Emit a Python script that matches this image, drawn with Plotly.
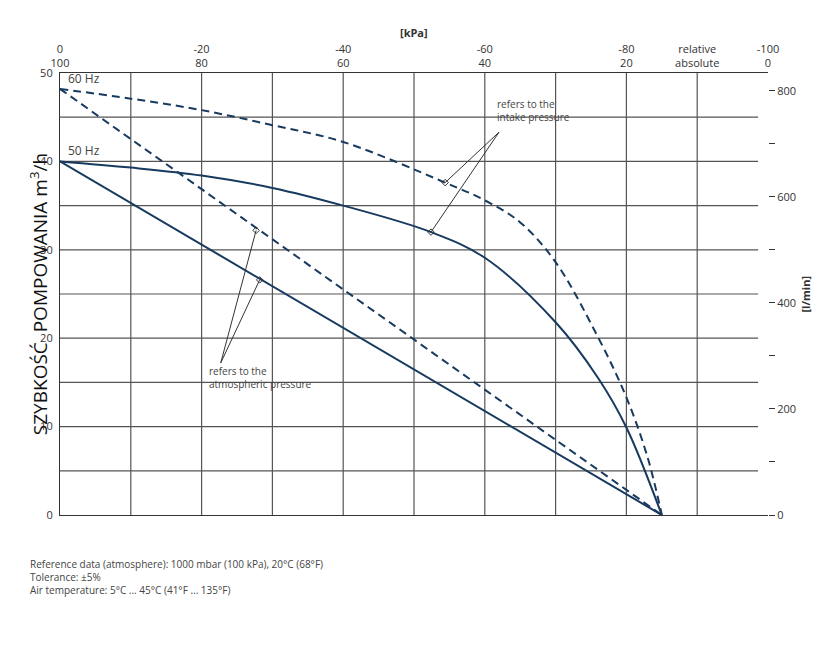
import plotly.graph_objects as go

# data: vacuum (kPa, relative, shown as negative) vs pumping speed m3/h
int50_x = [0, 10, 20, 30, 40, 52.4, 60, 70, 76, 80, 85]
int50_y = [40, 39.3, 38.4, 37.0, 35.0, 32.0, 29.1, 21.8, 15.5, 9.9, 0]
int60_x = [0, 10, 20, 30, 40, 54.4, 60, 65, 70, 76, 80, 83, 85]
int60_y = [48.2, 47.1, 45.8, 44.1, 42.2, 37.6, 35.6, 33.1, 28.6, 20.1, 13.3, 6.5, 0]
atm50_x = [0, 85]; atm50_y = [40, 0]
atm60_x = [0, 85]; atm60_y = [48.2, 0]
top_vals = [0, 20, 40, 60, 80, 90, 100]
top_text = ["0<br>100", "-20<br>80", "-40<br>60", "-60<br>40", "-80<br>20", "relative<br>absolute", "-100<br>0"]
left_vals = [0, 10, 20, 30, 40, 50]
right_vals = [0, 200, 400, 600, 800]

C = "#173a5e"
G = "#555555"
D = "8px,5px"
fig = go.Figure()
fig.add_trace(go.Scatter(x=int60_x, y=int60_y, mode="lines", line=dict(color=C, width=2, dash=D, shape="spline"), showlegend=False))
fig.add_trace(go.Scatter(x=atm60_x, y=atm60_y, mode="lines", line=dict(color=C, width=2, dash=D), showlegend=False))
fig.add_trace(go.Scatter(x=int50_x, y=int50_y, mode="lines", line=dict(color=C, width=2, shape="spline"), showlegend=False))
fig.add_trace(go.Scatter(x=atm50_x, y=atm50_y, mode="lines", line=dict(color=C, width=2), showlegend=False))
fig.add_trace(go.Scatter(x=[0], y=[0], yaxis="y2", mode="markers", marker=dict(opacity=0), showlegend=False, hoverinfo="skip"))

def pointer(x0, y0, x1, y1):
    fig.add_shape(type="line", x0=x0, y0=y0, x1=x1, y1=y1, line=dict(color="#333", width=1))
    fig.add_trace(go.Scatter(x=[x1], y=[y1], mode="markers", marker=dict(symbol="diamond-open", size=5, color="#333"), showlegend=False))
pointer(62, 43.3, 54.4, 37.6)
pointer(62, 43.3, 52.4, 32.0)
pointer(22.7, 17.2, 27.7, 32.2)
pointer(22.7, 17.2, 28.2, 26.6)

fig.add_annotation(x=61.5, y=45.8, text="refers to the<br>intake pressure", showarrow=False, xanchor="left", align="left", font=dict(size=10, color="#444"))
fig.add_annotation(x=20.8, y=15.5, text="refers to the<br>atmospheric pressure", showarrow=False, xanchor="left", align="left", font=dict(size=10, color="#444"))
fig.add_annotation(x=0.8, y=48.2, text="60 Hz", showarrow=False, xanchor="left", yanchor="bottom", font=dict(size=12, color="#444"))
fig.add_annotation(x=0.8, y=40, text="50 Hz", showarrow=False, xanchor="left", yanchor="bottom", font=dict(size=12, color="#444"))
fig.add_annotation(x=0.5, y=1.0, xref="paper", yref="paper", yshift=50, text="<b>[kPa]</b>", showarrow=False, font=dict(size=11, color="#333"))
fig.add_annotation(x=-0.052, y=0.5, xref="paper", yref="paper", text="SZYBKOŚĆ  POMPOWANIA m<sup>3</sup>/h", textangle=-90, showarrow=False, font=dict(size=19, color="#111"))
fig.add_annotation(x=1.065, y=0.5, xref="paper", yref="paper", text="<b>[l/min]</b>", textangle=-90, showarrow=False, font=dict(size=11, color="#333"))
fig.add_annotation(x=-0.045, y=-0.09, xref="paper", yref="paper", xanchor="left", yanchor="top", align="left",
                   text="Reference data (atmosphere): 1000 mbar (100 kPa), 20°C (68°F)<br>Tolerance: ±5%<br>Air temperature: 5°C ... 45°C (41°F ... 135°F)",
                   showarrow=False, font=dict(size=10, color="#444"))

fig.update_layout(
    width=834, height=664, margin=dict(l=52, r=74, t=65, b=157, autoexpand=False),
    plot_bgcolor="white", paper_bgcolor="white",
    font=dict(family="Open Sans", size=11, color="#333"),
    xaxis=dict(range=[0, 100], side="top", tickvals=top_vals, ticktext=top_text, automargin=False,
               showgrid=False, zeroline=False, showline=True, mirror=True, linecolor="#333", linewidth=1.2, ticks=""),
    yaxis=dict(range=[0, 50], tickvals=left_vals, showgrid=False, zeroline=False, automargin=False,
               showline=True, linecolor="#333", linewidth=1.2, ticks="", ticklabelstandoff=4),
    yaxis2=dict(overlaying="y", side="right", range=[0, 833.3], tickvals=right_vals, automargin=False,
                ticks="outside", ticklen=6, tickcolor="#333",
                minor=dict(tickvals=[100, 300, 500, 700], ticks="outside", ticklen=6, tickcolor="#333"),
                showgrid=False, zeroline=False, showline=False),
)
for v in range(10, 100, 10):
    fig.add_shape(type="line", x0=v, x1=v, y0=0, y1=50, line=dict(color=G, width=1.2), layer="below")
for v in range(5, 50, 5):
    fig.add_shape(type="line", x0=0, x1=98.6, y0=v, y1=v, line=dict(color=G, width=1.2), layer="below")

fig.write_html("out.html")
